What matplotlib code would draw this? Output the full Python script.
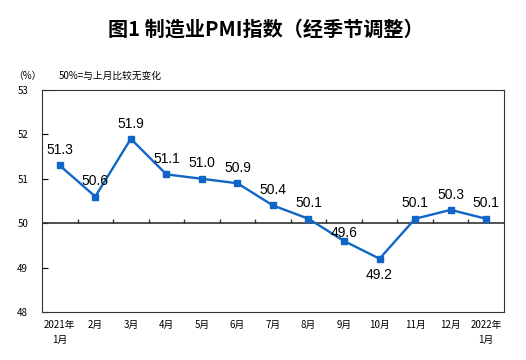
import matplotlib.pyplot as plt
import numpy as np

plt.rcParams['font.family'] = ['Noto Sans CJK SC', 'DejaVu Sans']

# PMI data
months = ["2021年\n1月", "2月", "3月", "4月", "5月", "6月", "7月", "8月",
          "9月", "10月", "11月", "12月", "2022年\n1月"]
pmi = [51.3, 50.6, 51.9, 51.1, 51.0, 50.9, 50.4, 50.1, 49.6, 49.2, 50.1, 50.3, 50.1]

# label offsets in points (label sits above the marker unless negative)
offsets = [6] * len(pmi)
offsets[8] = 1
offsets[9] = -17

fig = plt.figure(figsize=(5.26, 3.6), dpi=100)
ax = fig.add_axes([0.0798, 0.1333, 0.8782, 0.6167])

x = np.arange(len(pmi))
ax.plot(x, pmi, color="#0f66c6", lw=1.7, marker="s", ms=4.5, zorder=3)

for xi, v, dy in zip(x, pmi, offsets):
    ax.annotate(f"{v:.1f}", (xi, v), xytext=(0, dy), textcoords="offset points",
                ha="center", va="bottom", fontsize=10, family="Liberation Sans")

# 50 line with ticks between months
ax.axhline(50, color="#333333", lw=1.2, zorder=2)
ax.vlines(np.arange(0.5, len(pmi) - 1), 50, 50.1, color="#333333", lw=1)

ax.set_xlim(-0.5, len(pmi) - 0.5)
ax.set_ylim(48, 53)
ax.set_yticks([48, 49, 50, 51, 52, 53])
ax.tick_params(axis="y", direction="in", length=4, labelsize=7, pad=10)
ax.set_xticks(x)
ax.set_xticklabels(months, fontsize=7, linespacing=1.6)
ax.tick_params(axis="x", length=0, pad=6)
for s in ax.spines.values():
    s.set_color("#333333")

fig.text(0.505, 0.92, "图1 制造业PMI指数（经季节调整）", ha="center", va="center",
         fontsize=14.5, fontweight="bold")
fig.text(0.053, 0.79, "（%）", ha="center", va="center", fontsize=7)
fig.text(0.112, 0.79, "50%=与上月比较无变化", ha="left", va="center", fontsize=7)

fig.savefig("out.png", dpi=100)
